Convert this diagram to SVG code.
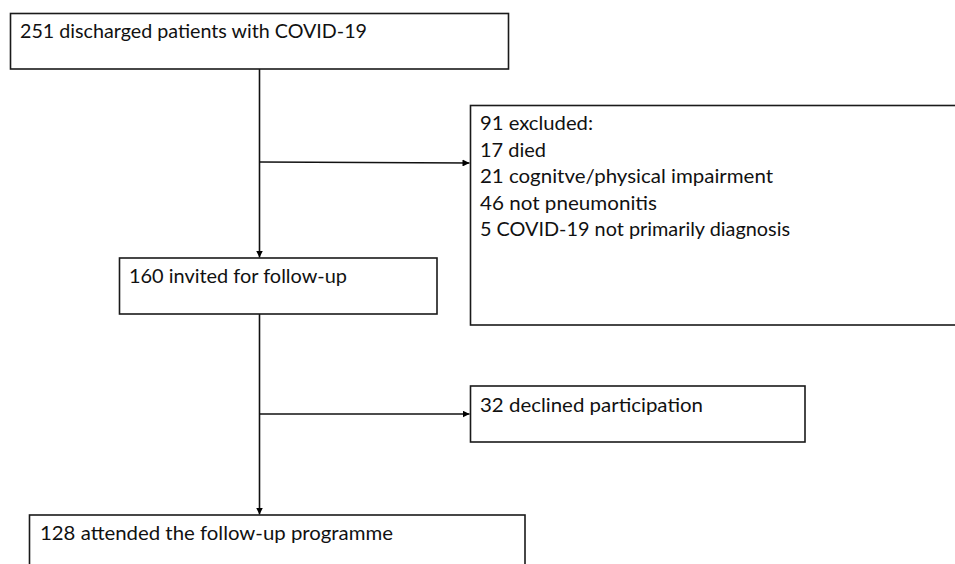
<svg xmlns="http://www.w3.org/2000/svg" width="955" height="564" viewBox="0 0 955 564">
<defs>
<marker id="ah" viewBox="0 0 10 10" refX="10" refY="5" markerWidth="7" markerHeight="7" markerUnits="userSpaceOnUse" orient="auto">
<path d="M0,0 L10,5 L0,10 z" fill="#000"/>
</marker>
<style>
.box{fill:#fff;stroke:#1a1a1a;stroke-width:1.6}
.t{font-family:Lato,"Open Sans","Liberation Sans",sans-serif;font-size:20px;fill:#111}
.c{fill:none;stroke:#111;stroke-width:1.6}
</style>
</defs>
<rect width="955" height="564" fill="#fff"/>
<g id="connectors">
<line class="c" x1="259.5" y1="69" x2="259.5" y2="257.5" marker-end="url(#ah)"/>
<line class="c" x1="259.5" y1="162" x2="469.5" y2="163" marker-end="url(#ah)"/>
<line class="c" x1="259.5" y1="314" x2="259.5" y2="514.5" marker-end="url(#ah)"/>
<line class="c" x1="259.5" y1="414" x2="469.5" y2="414" marker-end="url(#ah)"/>
</g>
<g id="n1">
<rect class="box" x="10.5" y="13.5" width="498" height="55.5"/>
<text class="t" x="20" y="38" textLength="347" lengthAdjust="spacingAndGlyphs">251 discharged patients with COVID-19</text>
</g>
<g id="n2">
<rect class="box" x="470.5" y="105.5" width="490" height="219.5"/>
<text class="t" x="480" y="130" textLength="113" lengthAdjust="spacingAndGlyphs">91 excluded:</text>
<text class="t" x="480" y="156.5" textLength="66" lengthAdjust="spacingAndGlyphs">17 died</text>
<text class="t" x="480" y="183" textLength="293" lengthAdjust="spacingAndGlyphs">21 cognitve/physical impairment</text>
<text class="t" x="480" y="209.5" textLength="177" lengthAdjust="spacingAndGlyphs">46 not pneumonitis</text>
<text class="t" x="480" y="236" textLength="310" lengthAdjust="spacingAndGlyphs">5 COVID-19 not primarily diagnosis</text>
</g>
<g id="n3">
<rect class="box" x="119.5" y="258" width="317.5" height="56"/>
<text class="t" x="129" y="283" textLength="218" lengthAdjust="spacingAndGlyphs">160 invited for follow-up</text>
</g>
<g id="n4">
<rect class="box" x="470.5" y="386" width="334.5" height="56"/>
<text class="t" x="480" y="412" textLength="223" lengthAdjust="spacingAndGlyphs">32 declined participation</text>
</g>
<g id="n5">
<rect class="box" x="29.5" y="515" width="495.5" height="60"/>
<text class="t" x="40" y="540" textLength="353" lengthAdjust="spacingAndGlyphs">128 attended the follow-up programme</text>
</g>
</svg>
